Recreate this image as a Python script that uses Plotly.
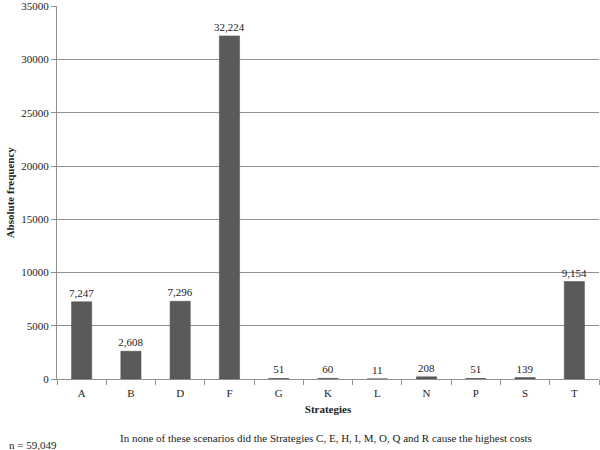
import plotly.graph_objects as go

strategies = ['A', 'B', 'D', 'F', 'G', 'K', 'L', 'N', 'P', 'S', 'T']
frequency = [7247, 2608, 7296, 32224, 51, 60, 11, 208, 51, 139, 9154]
y_ticks = [0, 5000, 10000, 15000, 20000, 25000, 30000, 35000]

serif = 'Liberation Serif, Times New Roman, serif'
grey = '#8f8f8f'

fig = go.Figure()
fig.add_trace(go.Bar(x=strategies, y=frequency,
                     marker=dict(color='#5a5a5a', line=dict(color='#4a4a4a', width=0.5)),
                     texttemplate='%{y:,}', textposition='outside',
                     textfont=dict(family=serif, size=11, color='#222222'),
                     constraintext='none', cliponaxis=False, width=0.41))

fig.update_layout(width=600, height=450,
                  margin=dict(l=57, r=1, t=6, b=71),
                  plot_bgcolor='white', paper_bgcolor='white',
                  font=dict(family=serif, size=11, color='#222222'),
                  showlegend=False)

fig.update_xaxes(type='category', showline=True, linecolor=grey, linewidth=1,
                 ticks='outside', tickson='boundaries', ticklen=5, tickcolor=grey,
                 ticklabelstandoff=4,
                 tickfont=dict(family=serif, size=11), automargin=False,
                 title=dict(text='<b>Strategies</b>', standoff=7,
                            font=dict(family=serif, size=11)))

fig.update_yaxes(range=[0, 35030], tickvals=y_ticks, ticktext=[str(v) for v in y_ticks],
                 showgrid=True, gridcolor=grey, gridwidth=1,
                 showline=True, linecolor=grey, linewidth=1,
                 ticks='outside', ticklen=5, tickcolor=grey, automargin=False,
                 ticklabeloverflow='allow',
                 tickfont=dict(family=serif, size=11), zeroline=False)

fig.add_annotation(text='<b>Absolute frequency</b>', textangle=-90,
                   xref='paper', yref='paper', x=-0.087, y=0.5,
                   xanchor='center', yanchor='middle', showarrow=False,
                   font=dict(family=serif, size=11))

fig.add_annotation(text='n = 59,049', xref='paper', yref='paper',
                   x=-0.092, y=-0.177, xanchor='left', yanchor='middle',
                   showarrow=False, font=dict(family=serif, size=11))

fig.add_annotation(text='In none of these scenarios did the Strategies C, E, H, I, M, O, Q and R cause the highest costs',
                   xref='paper', yref='paper', x=0.497, y=-0.158,
                   xanchor='center', yanchor='middle', showarrow=False,
                   font=dict(family=serif, size=11))

# the page's default body margin would shift the chart by 8px
fig.write_html("out.html", config={'displayModeBar': False},
               post_script="document.body.style.margin='0';")
